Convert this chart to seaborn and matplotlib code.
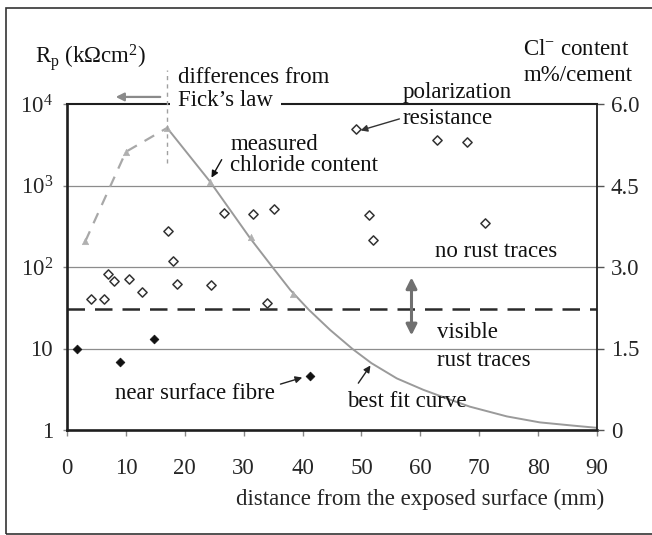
import numpy as np
import pandas as pd
import matplotlib
matplotlib.use("Agg")
import matplotlib.pyplot as plt
import seaborn as sns
from matplotlib.patches import Rectangle
from matplotlib.ticker import NullLocator

# polarization resistance, open diamonds (kOhm cm2)
rp_x = [4.0, 6.3, 7.0, 7.9, 10.5, 12.7, 17.2, 18.0, 18.6, 24.4,
        26.6, 31.6, 33.9, 35.1, 49.1, 51.2, 51.9, 62.8, 67.9, 70.9]
rp_val = [41, 41, 82, 68, 71, 50, 277, 119, 62, 60,
          466, 450, 36.5, 511, 4900, 434, 214, 3614, 3450, 344]

# near surface fibre, filled diamonds
fibre_x = [1.7, 9.0, 14.8, 41.3]
fibre_val = [10.0, 6.9, 13.0, 4.6]

# measured chloride content (m%/cement)
cl_x = [3.1, 10.0, 17.0, 24.3, 31.3, 38.3]
cl_val = [3.47, 5.12, 5.56, 4.57, 3.55, 2.50]

# best fit curve
fit_x = [17.0, 24.3, 31.1, 34.8, 37.9, 41.0, 44.7, 48.5, 51.7, 56.0,
         60.5, 64.5, 68.4, 74.7, 80.3, 86.0, 90.0]
fit_val = [5.56, 4.57, 3.53, 3.01, 2.58, 2.22, 1.84, 1.49, 1.23, 0.95,
           0.74, 0.58, 0.43, 0.25, 0.14, 0.08, 0.04]

rust_threshold = 30.5  # kOhm cm2

x_ticks = [0, 10, 20, 30, 40, 50, 60, 70, 80, 90]
left_ticks = [1, 10, 100, 1000, 10000]
left_labels = ["1", "10", r"$\mathregular{10^2}$", r"$\mathregular{10^3}$", r"$\mathregular{10^4}$"]
right_ticks = [0, 1.5, 3.0, 4.5, 6.0]
right_labels = ["0", "1.5", "3.0", "4.5", "6.0"]

sns.set_style("white")
plt.rcParams["font.family"] = ["Liberation Serif", "DejaVu Serif"]
plt.rcParams["mathtext.fontset"] = "custom"
plt.rcParams["mathtext.rm"] = "Liberation Serif"
plt.rcParams["mathtext.it"] = "Liberation Serif:italic"
plt.rcParams["mathtext.bf"] = "Liberation Serif:bold"

FS = 16.5
GRAY = "#9a9a9a"
DARK = "#1e1e1e"

fig = plt.figure(figsize=(6.52, 5.35), dpi=100)
ax = fig.add_axes([67 / 652, 1 - 430 / 535, 530 / 652, 326 / 535])
ax2 = ax.twinx()

# outer frame
fig.patches.append(Rectangle((6 / 652, 1 / 535), 1.2, 526 / 535, transform=fig.transFigure,
                             fill=False, edgecolor="#333333", lw=1.2))

ax.set_yscale("log")
ax.set_xlim(0, 90)
ax.set_ylim(1, 1e4)
ax2.set_ylim(0, 6)

# grid lines and threshold
for v in [10, 100, 1000]:
    ax.axhline(v, color="#8c8c8c", lw=0.9, zorder=1)
ax.axhline(rust_threshold, color="#2a2a2a", lw=1.8, ls=(0, (7, 4)), zorder=2)

rp_df = pd.DataFrame({"x": rp_x, "rp": rp_val})
fibre_df = pd.DataFrame({"x": fibre_x, "rp": fibre_val})
sns.scatterplot(data=rp_df, x="x", y="rp", ax=ax, marker="D", s=22,
                facecolor="white", edgecolor="#333333", linewidth=1.1, zorder=4)
sns.scatterplot(data=fibre_df, x="x", y="rp", ax=ax, marker="D", s=20,
                color="#111111", edgecolor="#111111", linewidth=0.5, zorder=4)

cl_df = pd.DataFrame({"x": cl_x, "cl": cl_val})
fit_df = pd.DataFrame({"x": fit_x, "cl": fit_val})
sns.lineplot(data=cl_df.iloc[:3], x="x", y="cl", ax=ax2, color="#a8a8a8", lw=1.6,
             dashes=False, linestyle=(0, (5, 4)), sort=False)
sns.lineplot(data=fit_df, x="x", y="cl", ax=ax2, color=GRAY, lw=1.4, sort=False)
sns.scatterplot(data=cl_df, x="x", y="cl", ax=ax2, marker="^", s=22,
                color="#b0b0b0", edgecolor="#b0b0b0", zorder=5)

# vertical dashed marker at the peak
ax2.plot([17.0, 17.0], [4.91, 6.63], color="#a0a0a0", lw=1.0, ls=(0, (3, 3)),
         clip_on=False, zorder=8)

# spines
for s in ["left", "bottom", "top"]:
    ax.spines[s].set_color(DARK)
ax.spines["left"].set_linewidth(1.9)
ax.spines["bottom"].set_linewidth(1.9)
ax.spines["top"].set_linewidth(1.5)
ax.spines["right"].set_visible(False)
for s in ["left", "bottom", "top"]:
    ax2.spines[s].set_visible(False)
ax2.spines["right"].set_color(DARK)
ax2.spines["right"].set_linewidth(1.3)

ax.set_xticks(x_ticks)
ax.set_xticklabels([str(t) for t in x_ticks])
ax.set_yticks(left_ticks)
ax.set_yticklabels(left_labels)
ax.yaxis.set_minor_locator(NullLocator())
ax.tick_params(axis="x", direction="out", length=4, width=1, color="#888888",
               labelsize=FS, pad=16, bottom=True)
ax.tick_params(axis="y", direction="out", length=3, width=1, color="#888888",
               labelsize=FS, pad=7, left=True)
ax2.set_yticks(right_ticks)
ax2.set_yticklabels(right_labels)
ax2.tick_params(axis="y", direction="out", length=5, width=1, color="#555555",
                labelsize=FS, pad=5, right=True)
ax.set_ylabel("")
ax2.set_ylabel("")
ax.set_xlabel("distance from the exposed surface (mm)", fontsize=FS)
ax.xaxis.set_label_coords(0.666, -0.18)

# text labels
txt = dict(fontsize=FS, ha="left", va="center", color="#111111", clip_on=False)
ax2.text(-5.5, 6.86, r"$\mathregular{R_p}$ (kΩcm$\mathregular{^2}$)", zorder=10, **txt)
ax2.text(18.85, 6.48, "differences from", zorder=10, **txt)
ax2.text(18.85, 6.06, "Fick’s law", zorder=9,
         bbox=dict(boxstyle="square,pad=0.35", facecolor="white", edgecolor="none"), **txt)
ax2.text(27.7, 5.25, "measured", zorder=10, **txt)
ax2.text(27.7, 4.86, "chloride content", zorder=10, **txt)
ax2.text(57.0, 6.22, "polarization", zorder=10, **txt)
ax2.text(57.0, 5.74, "resistance", zorder=10, **txt)
ax2.text(77.5, 7.01, r"Cl$\mathregular{^{-}}$ content", zorder=10, **txt)
ax2.text(77.5, 6.53, "m%/cement", zorder=10, **txt)
ax2.text(62.5, 3.29, "no rust traces", zorder=10, **txt)
ax2.text(62.9, 1.79, "visible", zorder=10, **txt)
ax2.text(62.9, 1.27, "rust traces", zorder=10, **txt)
ax2.text(47.6, 0.53, "best fit curve", zorder=10, **txt)
ax2.text(8.2, 0.68, "near surface fibre", zorder=10, **txt)

# arrows
ax2.annotate("", xy=(7.8, 6.13), xytext=(16.3, 6.13), annotation_clip=False, zorder=10,
             arrowprops=dict(arrowstyle="-|>", color="#8a8a8a", lw=1.6, mutation_scale=12))
ax2.annotate("", xy=(24.3, 4.60), xytext=(26.5, 5.02), zorder=10,
             arrowprops=dict(arrowstyle="-|>", color="#111111", lw=1.0, mutation_scale=10))
ax2.annotate("", xy=(49.4, 5.50), xytext=(56.9, 5.74), zorder=10,
             arrowprops=dict(arrowstyle="-|>", color="#333333", lw=1.0, mutation_scale=10))
ax2.annotate("", xy=(40.4, 0.98), xytext=(35.8, 0.83), zorder=10,
             arrowprops=dict(arrowstyle="-|>", color="#222222", lw=1.0, mutation_scale=10))
ax2.annotate("", xy=(51.8, 1.23), xytext=(49.2, 0.82), zorder=10,
             arrowprops=dict(arrowstyle="-|>", color="#222222", lw=1.0, mutation_scale=10))
ax2.annotate("", xy=(58.5, 2.86), xytext=(58.5, 1.69), zorder=10,
             arrowprops=dict(arrowstyle="<|-|>", color="#707070", lw=2.2, mutation_scale=16))

fig.savefig("out.png", dpi=100)
